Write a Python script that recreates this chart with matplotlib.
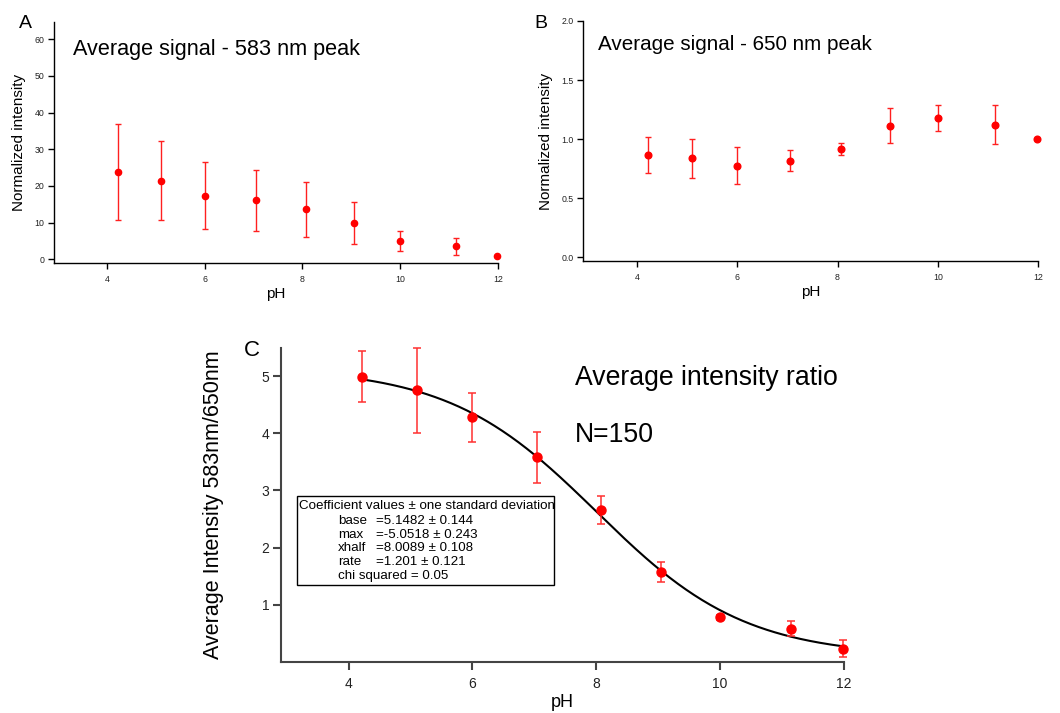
import matplotlib.pyplot as plt
import numpy as np
from matplotlib.patches import Rectangle

plt.rcParams['font.family'] = ['Liberation Sans', 'DejaVu Sans']

W, H = 1060, 713

# pH (same for the three panels)
ph = [4.22, 5.10, 6.00, 7.05, 8.07, 9.05, 10.00, 11.14, 11.98]

# A - 583 nm peak
sig583 = [23.7, 21.4, 17.4, 16.1, 13.6, 9.9, 5.0, 3.5, 0.9]
err583 = [13.1, 10.8, 9.05, 8.35, 7.4, 5.7, 2.7, 2.45, 0.0]

# B - 650 nm peak
sig650 = [0.868, 0.837, 0.777, 0.820, 0.918, 1.115, 1.177, 1.124, 1.0]
err650 = [0.153, 0.163, 0.157, 0.089, 0.048, 0.148, 0.111, 0.166, 0.0]

# C - ratio 583/650
ratio = [4.99, 4.75, 4.28, 3.58, 2.66, 1.57, 0.78, 0.585, 0.234]
err_ratio = [0.44, 0.74, 0.43, 0.45, 0.245, 0.17, 0.05, 0.13, 0.15]

# sigmoid fit coefficients
base, vmax, xhalf, rate = 5.1482, -5.0518, 8.0089, 1.201
coef_names = ["base", "max", "xhalf", "rate"]
coef_vals = ["=5.1482 \u00b1 0.144", "=-5.0518 \u00b1 0.243",
             "=8.0089 \u00b1 0.108", "=1.201 \u00b1 0.121"]


def rect(l, t, r, b):
    # pixel box -> figure fraction
    return [l / W, 1 - b / H, (r - l) / W, (b - t) / H]


def fx(x):
    return x / W


def fy(y):
    return 1 - y / H


def style(ax, fs, tlen, lw, col):
    for s in ["top", "right"]:
        ax.spines[s].set_visible(False)
    for s in ["left", "bottom"]:
        ax.spines[s].set_linewidth(lw)
        ax.spines[s].set_color(col)
    ax.tick_params(direction="out", length=tlen, width=lw, color=col,
                   labelsize=fs, labelcolor="#222222", pad=2.5)


fig = plt.figure(figsize=(W / 100, H / 100), dpi=100)

# ---- panel A
axA = fig.add_axes(rect(54, 22, 498, 263))
axA.errorbar(ph, sig583, yerr=err583, fmt="o", color="red", ms=4.5,
             ecolor="#ff2020", elinewidth=1, capsize=2.2, capthick=1,
             clip_on=False)
axA.set_xlim(2.92, 12)
axA.set_ylim(-1, 64.7)
axA.set_xticks([4, 6, 8, 10, 12])
axA.set_yticks([0, 10, 20, 30, 40, 50, 60])
style(axA, 6.3, 4.5, 1, "black")
axA.tick_params(axis="x", pad=4)
axA.set_xlabel("pH", fontsize=11, labelpad=2)
axA.set_ylabel("Normalized intensity", fontsize=11, labelpad=6)

# ---- panel B
axB = fig.add_axes(rect(583, 21, 1038, 261))
axB.errorbar(ph, sig650, yerr=err650, fmt="o", color="red", ms=4.8,
             ecolor="#ff2020", elinewidth=1, capsize=2.2, capthick=1,
             clip_on=False)
axB.set_xlim(2.92, 12)
axB.set_ylim(-0.03, 2.0)
axB.set_xticks([4, 6, 8, 10, 12])
axB.set_yticks([0, 0.5, 1.0, 1.5, 2.0])
axB.set_yticklabels(["0.0", "0.5", "1.0", "1.5", "2.0"])
style(axB, 6.3, 4.5, 1, "black")
axB.tick_params(axis="x", pad=4)
axB.set_xlabel("pH", fontsize=11, labelpad=2)
axB.set_ylabel("Normalized intensity", fontsize=11, labelpad=6)

# ---- panel C
axC = fig.add_axes(rect(281, 348, 844, 662))
xfit = np.linspace(ph[0], 12, 300)
yfit = base + vmax / (1 + np.exp((xhalf - xfit) / rate))
axC.plot(xfit, yfit, color="black", lw=1.5)
axC.errorbar(ph, ratio, yerr=err_ratio, fmt="o", color="red", ms=6.5,
             ecolor="#ff3030", elinewidth=1.1, capsize=3, capthick=1.1,
             clip_on=False, zorder=3)
axC.set_xlim(2.91, 12)
axC.set_ylim(0, 5.49)
axC.set_xticks([4, 6, 8, 10, 12])
axC.set_yticks([1, 2, 3, 4, 5])
style(axC, 10, 6, 1.5, "#444444")
axC.tick_params(axis="x", pad=5)
axC.set_xlabel("pH", fontsize=13, labelpad=2)
axC.set_ylabel("Average Intensity 583nm/650nm", fontsize=15.5, labelpad=27)

# panel letters and titles
fig.text(fx(25), fy(23), "A", fontsize=14, ha="center", va="center")
fig.text(fx(73), fy(55), "Average signal - 583 nm peak", fontsize=15.6,
         ha="left", va="baseline")
fig.text(fx(541), fy(23), "B", fontsize=14, ha="center", va="center")
fig.text(fx(598), fy(50), "Average signal - 650 nm peak", fontsize=14.9,
         ha="left", va="baseline")
fig.text(fx(252), fy(351), "C", fontsize=16, ha="center", va="center")
fig.text(fx(575), fy(385), "Average intensity ratio", fontsize=19.2,
         ha="left", va="baseline")
fig.text(fx(575), fy(442), "N=150", fontsize=19.2, ha="left", va="baseline")

# fit coefficient box
fig.patches.append(Rectangle((fx(297), fy(585)), (554 - 297) / W,
                             (585 - 496) / H, transform=fig.transFigure,
                             fill=False, edgecolor="black", lw=1))
fig.text(fx(299), fy(506), "Coefficient values \u00b1 one standard deviation",
         fontsize=9.6, ha="left", va="center")
for i in range(len(coef_names)):
    yy = 521 + i * 13.6
    fig.text(fx(338), fy(yy), coef_names[i], fontsize=9.6, ha="left",
             va="center")
    fig.text(fx(376), fy(yy), coef_vals[i], fontsize=9.6, ha="left",
             va="center")
fig.text(fx(338), fy(575.5), "chi squared = 0.05", fontsize=9.6, ha="left",
         va="center")

fig.savefig("out.png", dpi=100)
